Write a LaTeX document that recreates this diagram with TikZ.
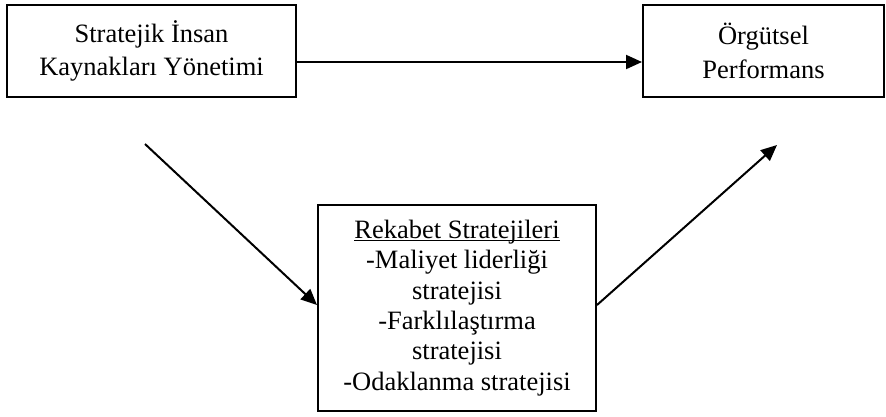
\documentclass[tikz,border=0pt]{standalone}
\usepackage{fontspec}
\setmainfont{Liberation Serif}
\usetikzlibrary{arrows.meta}
\tikzset{
  box/.style={draw=black, line width=2pt, inner sep=0pt, align=center, fill=white},
  arr/.style={draw=black, line width=2pt, -{Triangle[length=16pt,width=14pt]}},
  big/.style={font=\fontsize{26.5}{33.5}\selectfont},
  mid/.style={font=\fontsize{26.5}{30.4}\selectfont}
}
\begin{document}
\begin{tikzpicture}[x=1pt,y=-1pt]
\useasboundingbox[fill=white] (0,0) rectangle (886,416);
\node[box, big, minimum width=289pt, minimum height=92pt] (a) at (151.5,51) {Stratejik İnsan\\Kaynakları Yönetimi};
\node[box, big, minimum width=241pt, minimum height=92pt] (b) at (763.5,51) {Örgütsel\\Performans};
\node[box, mid, minimum width=278pt, minimum height=206pt] (c) at (457,308) {\underline{\smash{Rekabet Stratejileri}}\vphantom{Rekabet Stratejileri}\\-Maliyet liderliği\\stratejisi\\-Farklılaştırma\\stratejisi\\-Odaklanma stratejisi};
\coordinate (s) at (145,144);
\coordinate (e) at (777,145);
\draw[arr] ([yshift=-11pt]a.east) -- ([yshift=-11pt]b.west);
\draw[arr] (s) -- ([yshift=3pt]c.west);
\draw[arr] ([yshift=3pt]c.east) -- (e);
\end{tikzpicture}
\end{document}
